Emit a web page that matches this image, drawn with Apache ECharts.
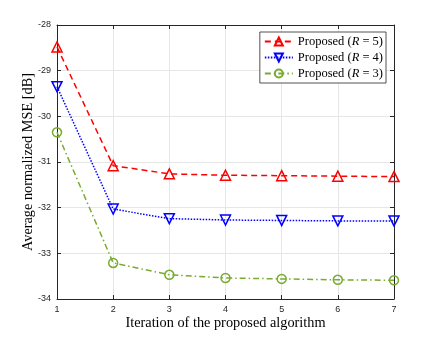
<!DOCTYPE html>
<html><head><meta charset="utf-8">
<script src="https://cdn.jsdelivr.net/npm/echarts@6/dist/echarts.min.js"></script>
<style>html,body{margin:0;padding:0;background:#fff}#c{width:436px;height:338px}</style>
</head><body><div id="c"></div>
<script>
var iterations = [1, 2, 3, 4, 5, 6, 7];
var mseR5 = [-28.48, -31.08, -31.26, -31.29, -31.30, -31.31, -31.32];
var mseR4 = [-29.35, -32.03, -32.24, -32.27, -32.28, -32.29, -32.29];
var mseR3 = [-30.35, -33.21, -33.47, -33.54, -33.56, -33.58, -33.59];
var yTicks = [-34, -33, -32, -31, -30, -29, -28];
var names = ['R5', 'R4', 'R3'];
var rValues = [5, 4, 3];

function pairs(vals) { return iterations.map(function (x, i) { return [x, vals[i]]; }); }
var axisColor = '#262626';
var serif = '"Liberation Serif", "Times New Roman", serif';
var sans = '"Liberation Sans", Arial, sans-serif';

function mkSeries(name, vals, color, dash, symbol, rot, size) {
  return {
    name: name, type: 'line', data: pairs(vals),
    symbol: symbol, symbolSize: size, symbolRotate: rot,
    lineStyle: { color: color, width: 1.5, type: dash },
    itemStyle: { color: 'rgba(255,255,255,0)', borderColor: color, borderWidth: 1.5 },
    emphasis: { disabled: true }, z: 3
  };
}

var chart = echarts.init(document.getElementById('c'), null, { renderer: 'canvas' });
chart.setOption({
  animation: false,
  grid: { left: 57, right: 42, top: 25, bottom: 39 },
  legend: {
    right: 50, top: 32, orient: 'vertical',
    backgroundColor: '#fff', borderColor: axisColor, borderWidth: 0.8,
    padding: [3, 3, 3, 4], itemGap: 3, itemWidth: 28, itemHeight: 10,
    data: names,
    formatter: function (n) { var r = rValues[names.indexOf(n)]; return 'Proposed ({i|R} = ' + r + ')'; },
    textStyle: { fontFamily: serif, fontSize: 12.5, color: '#000',
      rich: { i: { fontFamily: serif, fontStyle: 'italic', fontSize: 12.5, color: '#000' } } }
  },
  xAxis: [{
    type: 'value', min: 1, max: 7, interval: 1,
    name: 'Iteration of the proposed algorithm', nameLocation: 'middle', nameGap: 17,
    nameMoveOverlap: false,
    nameTextStyle: { fontFamily: serif, fontSize: 14.3, color: '#000' },
    axisLine: { lineStyle: { color: axisColor, width: 1 } },
    axisTick: { inside: true, length: 4, lineStyle: { color: axisColor } },
    axisLabel: { fontFamily: sans, fontSize: 9, color: axisColor, margin: 6 },
    splitLine: { show: true, lineStyle: { color: '#e6e6e6', width: 1 } }
  }, {
    type: 'value', position: 'top', min: 1, max: 7, interval: 1,
    axisLine: { show: true, lineStyle: { color: axisColor } },
    axisTick: { show: true, inside: true, length: 4, lineStyle: { color: axisColor } },
    axisLabel: { show: false }, splitLine: { show: false }
  }],
  yAxis: [{
    type: 'value', min: -34, max: -28, interval: 1,
    name: 'Average normalized MSE [dB]', nameLocation: 'middle', nameGap: 22,
    nameMoveOverlap: false,
    nameTextStyle: { fontFamily: serif, fontSize: 14.3, color: '#000' },
    axisLine: { show: true, lineStyle: { color: axisColor, width: 1 } },
    axisTick: { show: true, inside: true, length: 4, lineStyle: { color: axisColor } },
    axisLabel: { fontFamily: sans, fontSize: 9, color: axisColor, margin: 6,
      formatter: function (v) { return yTicks.indexOf(v) >= 0 ? String(v) : ''; } },
    splitLine: { show: true, lineStyle: { color: '#e6e6e6', width: 1 } }
  }, {
    type: 'value', position: 'right', min: -34, max: -28, interval: 1,
    axisLine: { show: true, lineStyle: { color: axisColor } },
    axisTick: { show: true, inside: true, length: 4, lineStyle: { color: axisColor } },
    axisLabel: { show: false }, splitLine: { show: false }
  }],
  series: [
    mkSeries('R5', mseR5, '#ff0000', [6, 4], 'triangle', 0, 10),
    mkSeries('R4', mseR4, '#0000ff', [1.5, 1.5], 'triangle', 180, 10),
    mkSeries('R3', mseR3, '#77ac30', [6, 3, 1.5, 3], 'circle', 0, 9)
  ]
});
</script></body></html>
